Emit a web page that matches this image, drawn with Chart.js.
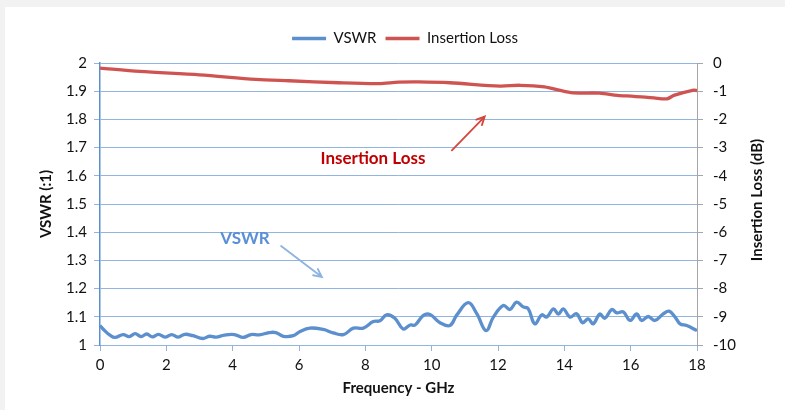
<!DOCTYPE html>
<html>
<head>
<meta charset="utf-8">
<script src="https://cdn.jsdelivr.net/npm/chart.js@4.4.1/dist/chart.umd.min.js"></script>
<style>
  html, body { margin: 0; padding: 0; background: #f2f2f2; }
  #wrap { position: absolute; left: 5px; top: 7px; width: 780px; height: 403px; background: #fff; }
</style>
</head>
<body>
<div id="wrap"><canvas id="chart" width="780" height="403"></canvas></div>
<script>
// VSWR readings (GHz, ratio)
const vswrFreq = [0, 0.15, 0.3, 0.45, 0.7, 0.88, 1.06, 1.24, 1.41, 1.58, 1.76, 1.96, 2.16, 2.36, 2.56, 2.8, 3.1, 3.3, 3.5, 3.75, 4.05, 4.32, 4.55, 4.8, 5.1, 5.3, 5.53, 5.83, 6.03, 6.33, 6.73, 7.03, 7.34, 7.64, 7.94, 8.24, 8.44, 8.64, 8.89, 9.14, 9.35, 9.5, 9.75, 9.95, 10.25, 10.55, 10.75, 11.1, 11.36, 11.64, 11.86, 12.16, 12.36, 12.56, 12.76, 12.91, 13.11, 13.32, 13.47, 13.67, 13.82, 13.97, 14.17, 14.37, 14.55, 14.72, 14.87, 15.07, 15.22, 15.43, 15.58, 15.78, 15.98, 16.18, 16.33, 16.53, 16.73, 16.98, 17.16, 17.34, 17.49, 17.69, 18];
const vswrValues = [1.069, 1.05, 1.035, 1.027, 1.037, 1.03, 1.04, 1.03, 1.039, 1.029, 1.038, 1.028, 1.037, 1.028, 1.038, 1.033, 1.023, 1.031, 1.028, 1.035, 1.037, 1.027, 1.037, 1.036, 1.044, 1.044, 1.031, 1.033, 1.048, 1.06, 1.055, 1.043, 1.037, 1.06, 1.06, 1.083, 1.086, 1.107, 1.095, 1.057, 1.071, 1.071, 1.105, 1.108, 1.079, 1.069, 1.105, 1.15, 1.111, 1.051, 1.099, 1.14, 1.126, 1.152, 1.135, 1.129, 1.075, 1.107, 1.099, 1.128, 1.11, 1.128, 1.099, 1.111, 1.079, 1.093, 1.075, 1.11, 1.095, 1.126, 1.114, 1.117, 1.087, 1.11, 1.087, 1.101, 1.087, 1.11, 1.12, 1.099, 1.075, 1.069, 1.051];

// Insertion loss readings (GHz, dB)
const lossFreq = [0, 1.2, 3.0, 4.7, 5.7, 7.2, 8.4, 9.0, 9.6, 10.55, 12.06, 12.66, 13.4, 14.2, 15.07, 15.6, 16.1, 16.7, 17.1, 17.3, 17.9, 18];
const lossValues = [-0.18, -0.3, -0.42, -0.58, -0.63, -0.7, -0.73, -0.68, -0.67, -0.7, -0.82, -0.79, -0.85, -1.05, -1.07, -1.15, -1.18, -1.24, -1.27, -1.15, -0.96, -0.98];

const vswrTickLabels = ["1", "1.1", "1.2", "1.3", "1.4", "1.5", "1.6", "1.7", "1.8", "1.9", "2"];
const lossTickLabels = ["-10", "-9", "-8", "-7", "-6", "-5", "-4", "-3", "-2", "-1", "0"];

const FONT = "Lato, 'Liberation Sans', sans-serif";
const BLUE = "#5b8fcd";
const RED = "#cf5451";
const GRID = "#92b5df";

function toPoints(xs, ys) {
  return xs.map((x, i) => ({ x: x, y: ys[i] }));
}

function arrow(ctx, x1, y1, x2, y2, color) {
  const ang = Math.atan2(y2 - y1, x2 - x1);
  const h = 9;
  ctx.save();
  ctx.strokeStyle = color;
  ctx.lineWidth = 1.8;
  ctx.lineCap = "round";
  ctx.beginPath();
  ctx.moveTo(x1, y1);
  ctx.lineTo(x2, y2);
  ctx.moveTo(x2 - h * Math.cos(ang - 0.45), y2 - h * Math.sin(ang - 0.45));
  ctx.lineTo(x2, y2);
  ctx.lineTo(x2 - h * Math.cos(ang + 0.45), y2 - h * Math.sin(ang + 0.45));
  ctx.stroke();
  ctx.restore();
}

// right axis title (reads bottom to top) and the callouts
const extras = {
  id: "extras",
  beforeLayout(chart) {
    const lg = chart.legend;
    if (lg && !lg._fixed) {
      const fit = lg.fit.bind(lg);
      lg.fit = function () { fit(); this.height = 41; };
      lg._fixed = true;
    }
  },
  afterDraw(chart) {
    const ctx = chart.ctx;
    const xs = chart.scales.x, ys = chart.scales.y;
    const area = chart.chartArea;

    ctx.save();
    ctx.translate(752, (area.top + area.bottom) / 2 - 4);
    ctx.rotate(-Math.PI / 2);
    ctx.font = "bold 15px " + FONT;
    ctx.fillStyle = "#111";
    ctx.textAlign = "center";
    ctx.textBaseline = "middle";
    ctx.fillText("Insertion Loss (dB)", 0, 0);
    ctx.restore();

    ctx.save();
    ctx.font = "bold 17px " + FONT;
    ctx.textAlign = "center";
    ctx.textBaseline = "middle";
    ctx.fillStyle = "#c00000";
    ctx.fillText("Insertion Loss", xs.getPixelForValue(8.23), ys.getPixelForValue(1.66));
    ctx.fillStyle = "#5b8fd6";
    ctx.fillText("VSWR", xs.getPixelForValue(4.37), ys.getPixelForValue(1.376));
    ctx.restore();

    arrow(ctx, xs.getPixelForValue(10.61), ys.getPixelForValue(1.69),
      xs.getPixelForValue(11.6), ys.getPixelForValue(1.81), "#d5473d");
    arrow(ctx, xs.getPixelForValue(5.46), ys.getPixelForValue(1.351),
      xs.getPixelForValue(6.69), ys.getPixelForValue(1.241), "#8db3e2");
  }
};

const chart = new Chart(document.getElementById("chart"), {
  type: "line",
  data: {
    datasets: [
      {
        label: "VSWR",
        data: toPoints(vswrFreq, vswrValues),
        yAxisID: "y",
        borderColor: BLUE,
        backgroundColor: BLUE,
        borderWidth: 3.3,
        pointRadius: 0,
        tension: 0.4
      },
      {
        label: "Insertion Loss",
        data: toPoints(lossFreq, lossValues),
        yAxisID: "y2",
        borderColor: RED,
        backgroundColor: RED,
        borderWidth: 3.3,
        pointRadius: 0,
        tension: 0.3
      }
    ]
  },
  options: {
    responsive: false,
    animation: false,
    layout: { padding: { top: 15, left: 20, right: 0, bottom: 0 } },
    plugins: {
      tooltip: { enabled: false },
      legend: {
        position: "top",
        labels: {
          usePointStyle: true,
          pointStyleWidth: 34,
          pointStyle: "line",
          padding: 9,
          color: "#111",
          font: { family: FONT, size: 15 }
        }
      }
    },
    scales: {
      x: {
        type: "linear",
        min: 0,
        max: 18,
        ticks: { stepSize: 2, padding: 5, color: "#111", font: { family: FONT, size: 15 } },
        grid: { drawOnChartArea: false, tickLength: 6, color: GRID },
        border: { color: GRID },
        title: { display: true, text: "Frequency - GHz", color: "#111", font: { family: FONT, size: 15, weight: "bold" }, padding: { top: 0, bottom: 13 } },
        afterFit: s => { s.height = 65; }
      },
      y: {
        position: "left",
        min: 1,
        max: 2,
        ticks: {
          stepSize: 0.1,
          padding: 7,
          color: "#111",
          font: { family: FONT, size: 15 },
          callback: (v, i) => vswrTickLabels[i]
        },
        grid: { color: GRID, tickLength: 6 },
        border: { color: "#5d8fd0", width: 1.5 },
        title: { display: true, text: "VSWR (:1)", color: "#111", font: { family: FONT, size: 15, weight: "bold" }, padding: { top: 12, bottom: 0 } },
        afterFit: s => { s.width = 75; }
      },
      y2: {
        position: "right",
        min: -10,
        max: 0,
        ticks: {
          stepSize: 1,
          padding: 10,
          color: "#111",
          font: { family: FONT, size: 15 },
          callback: (v, i) => lossTickLabels[i]
        },
        grid: { drawOnChartArea: false, color: "#a6a6a6", tickLength: 6 },
        border: { color: "#a6a6a6" },
        afterFit: s => { s.width = 88; }
      }
    }
  },
  plugins: [extras]
});
</script>
</body>
</html>
